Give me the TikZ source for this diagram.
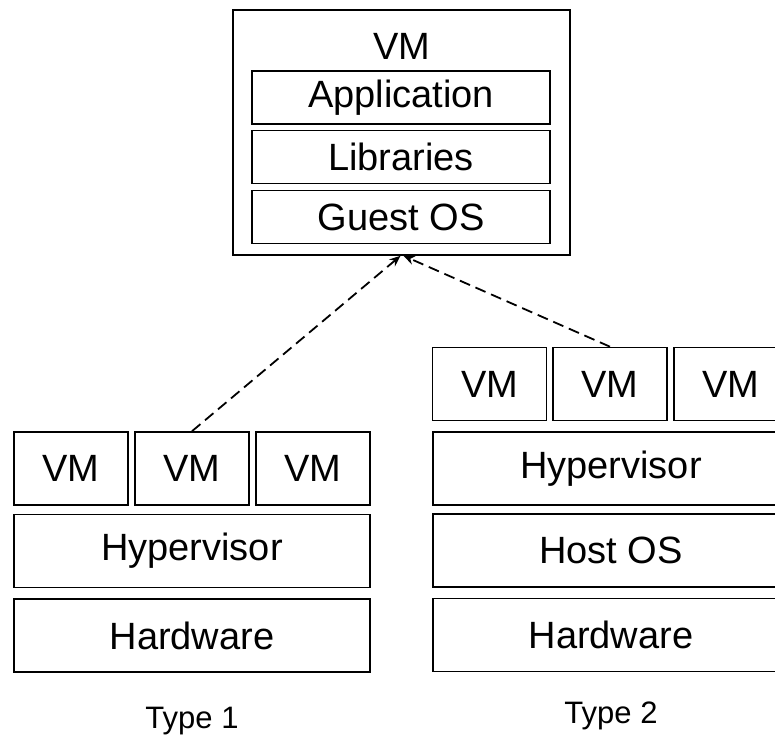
\documentclass[tikz,border=0pt]{standalone}
\usepackage{fontspec}
\setmainfont{Liberation Sans}
\usetikzlibrary{arrows.meta}

\tikzset{
	layer/.style={draw, black, line width=1.6pt, inner sep=0pt, minimum height=73pt, font=\fontsize{38}{44}\selectfont},
	vmbox/.style={layer, minimum width=114pt},
	wide/.style={layer, minimum width=356pt},
	inner/.style={layer, minimum width=298pt, minimum height=53pt},
	caption/.style={font=\fontsize{31}{36}\selectfont},
	link/.style={-{Stealth[length=11pt, width=9pt]}, line width=1.8pt, dash pattern=on 11pt off 6pt}
}

\begin{document}
\begin{tikzpicture}[x=1pt, y=-1pt]
		\clip (0, 0) rectangle (775, 740);

		% VM in detail
		\node[draw, line width=1.6pt, minimum width=337pt, minimum height=245pt] (vm) at (401.5, 132.5) {};
		\node[font=\fontsize{38}{44}\selectfont] (vmtitle) at (401.5, 46) {VM};
		\node[inner] (app) at (401, 97.5) {Application};
		\node[inner] (lib) at (401, 157) {Libraries};
		\node[inner] (guest) at (401, 217) {Guest OS};

		% Type 1
		\node[vmbox] (avm1) at (71, 468.5) {VM};
		\node[vmbox] (avm2) at (192, 468.5) {VM};
		\node[vmbox] (avm3) at (313, 468.5) {VM};
		\node[wide] (ahyp) at (192, 551) {Hypervisor};
		\node[wide] (ahw) at (192, 635.5) {Hardware};
		\node[caption] (atype) at (192, 721) {Type 1};

		% Type 2
		\node[vmbox] (bvm1) at (489.5, 384) {VM};
		\node[vmbox] (bvm2) at (610, 384) {VM};
		\node[vmbox] (bvm3) at (731, 384) {VM};
		\node[wide] (bhyp) at (611, 468.5) {Hypervisor};
		\node[wide] (bhost) at (611, 550.5) {Host OS};
		\node[wide] (bhw) at (611, 635) {Hardware};
		\node[caption] (btype) at (611, 716) {Type 2};

		\draw[link]	(avm2.north) to ([xshift=-1pt]vm.south);
		\draw[link]	(bvm2.north) to ([xshift=2pt]vm.south);
	\end{tikzpicture}
\end{document}
